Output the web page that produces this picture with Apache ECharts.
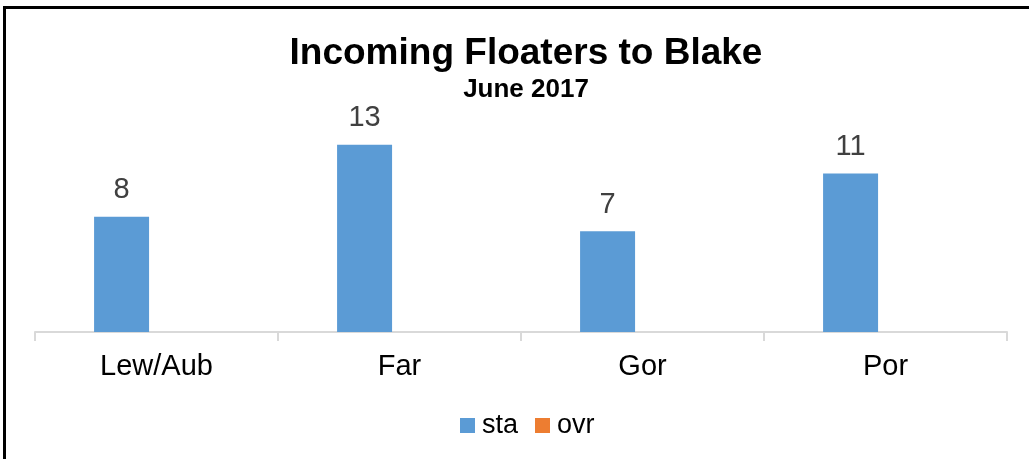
<!DOCTYPE html>
<html>
<head>
<meta charset="utf-8">
<script src="https://cdn.jsdelivr.net/npm/echarts@6/dist/echarts.min.js"></script>
<style>
  html, body { margin: 0; padding: 0; background: #fff; }
  #chart { width: 1029px; height: 459px; }
</style>
</head>
<body>
<div id="chart"></div>
<script>
// data
const categories = ['Lew/Aub', 'Far', 'Gor', 'Por'];
const staValues = [8, 13, 7, 11];
const ovrValues = [0, 0, 0, 0];
const seriesNames = ['sta', 'ovr'];

const font = '"Liberation Sans", Arial, sans-serif';
const chart = echarts.init(document.getElementById('chart'), null, { renderer: 'canvas' });

const option = {
  animation: false,
  backgroundColor: '#fff',
  title: [{
    text: 'Incoming Floaters to Blake',
    left: 521,
    textAlign: 'center',
    top: 30,
    textStyle: { fontFamily: font, fontSize: 37, fontWeight: 'bold', color: '#000' }
  }, {
    text: 'June 2017',
    left: 521,
    textAlign: 'center',
    top: 72,
    textStyle: { fontFamily: font, fontSize: 26, fontWeight: 'bold', color: '#000' }
  }],
  legend: {
    data: seriesNames,
    bottom: 15,
    left: 455,
    itemWidth: 15,
    itemHeight: 15,
    itemGap: 17,
    icon: 'rect',
    textStyle: { fontFamily: font, fontSize: 27, color: '#000', padding: [0, 0, 0, 2] }
  },
  grid: { left: 35, right: 22, top: 130.4, bottom: 127 },
  xAxis: {
    type: 'category',
    data: categories,
    axisLine: { lineStyle: { color: '#d9d9d9', width: 2 } },
    axisTick: { show: true, length: 9, lineStyle: { color: '#d9d9d9', width: 2 } },
    axisLabel: { fontFamily: font, fontSize: 29, color: '#000', margin: 20 }
  },
  yAxis: {
    type: 'value',
    min: 0,
    max: 14,
    show: false,
    splitLine: { show: false }
  },
  graphic: [{
    type: 'line',
    shape: { x1: 3, y1: 7.5, x2: 1029, y2: 7.5 },
    style: { stroke: '#000', lineWidth: 3 }
  }, {
    type: 'line',
    shape: { x1: 4.5, y1: 6, x2: 4.5, y2: 459 },
    style: { stroke: '#000', lineWidth: 3 }
  }],
  series: [{
    name: 'sta',
    type: 'bar',
    data: staValues,
    barWidth: 55,
    barGap: '27%',
    itemStyle: { color: '#5b9bd5' },
    label: {
      show: true,
      position: 'top',
      distance: 12,
      fontFamily: font,
      fontSize: 29,
      color: '#404040'
    }
  }, {
    name: 'ovr',
    type: 'bar',
    data: ovrValues,
    barWidth: 55,
    itemStyle: { color: '#ed7d31' },
    label: { show: false }
  }]
};

chart.setOption(option);
</script>
</body>
</html>
